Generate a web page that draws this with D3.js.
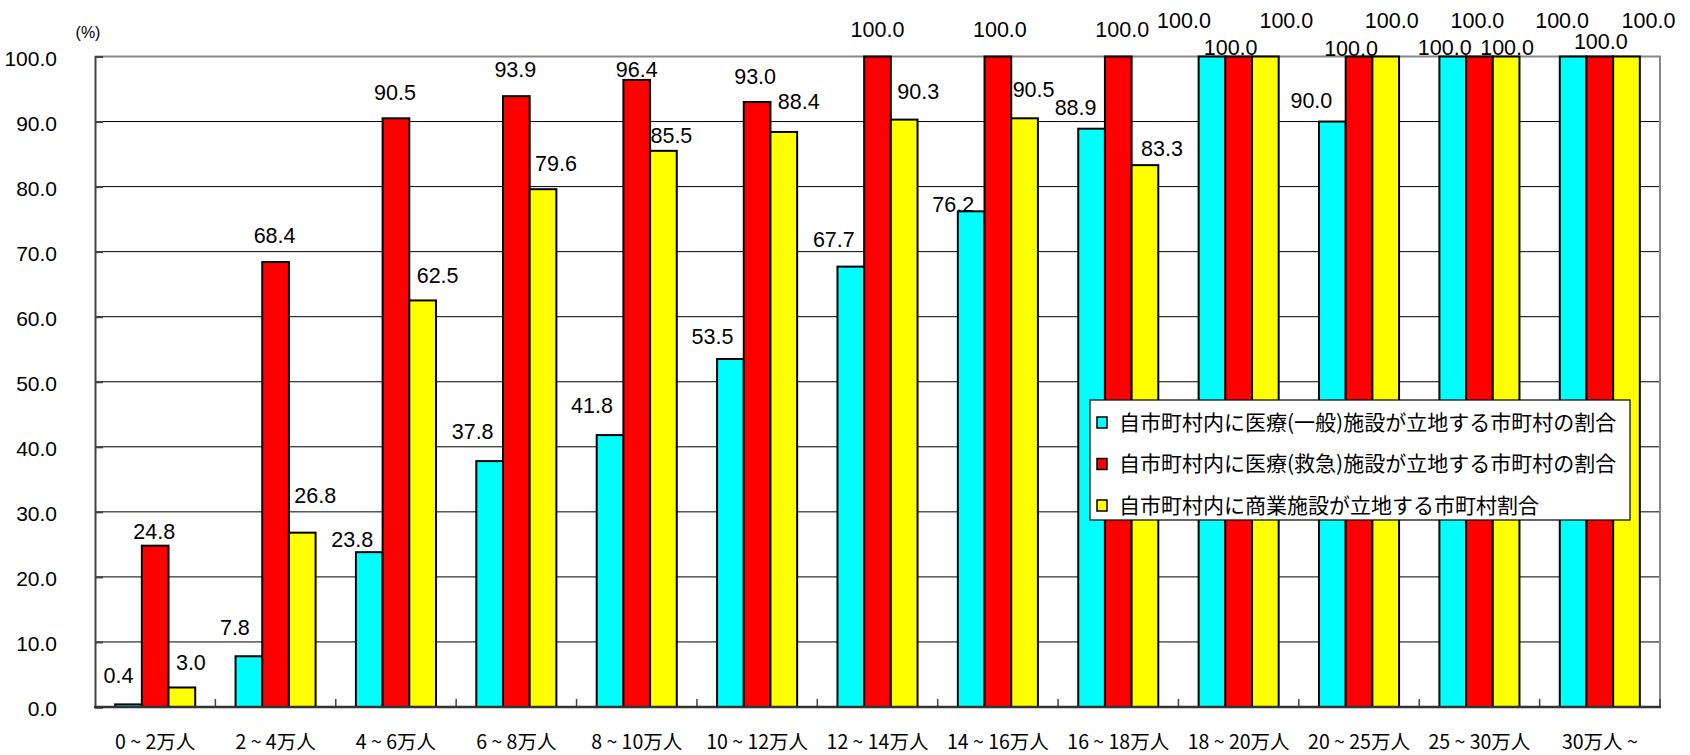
<!DOCTYPE html>
<html>
<head>
<meta charset="utf-8">
<script src="https://cdn.jsdelivr.net/npm/d3@7"></script>
<style>
  body { margin: 0; background: #fff; }
  text { font-family: "Liberation Sans", Arial, "Noto Sans CJK JP", sans-serif; fill: #000; }
  .jp { font-family: "Noto Sans CJK JP", sans-serif; }
</style>
</head>
<body>
<div id="viz"></div>
<script>
// categories (population bands)
var categories = ["0 ~ 2万人", "2 ~ 4万人", "4 ~ 6万人", "6 ~ 8万人", "8 ~ 10万人", "10 ~ 12万人",
  "12 ~ 14万人", "14 ~ 16万人", "16 ~ 18万人", "18 ~ 20万人", "20 ~ 25万人", "25 ~ 30万人", "30万人 ~"];

var seriesNames = [
  "自市町村内に医療(一般)施設が立地する市町村の割合",
  "自市町村内に医療(救急)施設が立地する市町村の割合",
  "自市町村内に商業施設が立地する市町村割合"
];

var medicalGeneral = [0.4, 7.8, 23.8, 37.8, 41.8, 53.5, 67.7, 76.2, 88.9, 100.0, 90.0, 100.0, 100.0];
var medicalEmergency = [24.8, 68.4, 90.5, 93.9, 96.4, 93.0, 100.0, 100.0, 100.0, 100.0, 100.0, 100.0, 100.0];
var commercial = [3.0, 26.8, 62.5, 79.6, 85.5, 88.4, 90.3, 90.5, 83.3, 100.0, 100.0, 100.0, 100.0];

var yTicks = [0, 10, 20, 30, 40, 50, 60, 70, 80, 90, 100];

var colors = ["#00ffff", "#ff0000", "#ffff00"];

// hand-placed label nudges (the original labels were dragged around)
var labelDx = [
  [-10, -14, -17, -17, -18, -18, -17, -18, -16, -28, -21, -8, -11],
  [-1, -1, -1, -1, 0, -2, 0, 2, 4, -8, -8, -2, 1],
  [9, 13, 15, 13, 8, 15, 14, 9, 17, 21, 6, 1, 22]
];
var labelLift = [
  [29, 29, 13, 30, 30, 23, 27, 7, 21, 36, 21, 9, 36],
  [14, 27, 26, 27, 11, 26, 27, 27, 27, 9, 8, 36, 15],
  [25, 37, 25, 26, 16, 31, 28, 29, 17, 36, 36, 9, 36]
];

var W = 1690, H = 755;
var plotLeft = 95, plotRight = 1660, plotTop = 56.5, plotBottom = 707;

var svg = d3.select("#viz").append("svg")
  .attr("width", W)
  .attr("height", H);

var x0 = d3.scaleBand().domain(d3.range(categories.length)).range([plotLeft, plotRight]);
var groupW = x0.bandwidth() * 0.665;
var x1 = d3.scaleBand().domain([0, 1, 2]).range([0, groupW]);
var y = d3.scaleLinear().domain([0, 100]).range([plotBottom, plotTop]);

var series = [medicalGeneral, medicalEmergency, commercial];

// gridlines
svg.append("g")
  .selectAll("line")
  .data(yTicks.filter(function(d) { return d > 0 && d < 100; }))
  .enter().append("line")
  .attr("x1", plotLeft).attr("x2", plotRight)
  .attr("y1", function(d) { return y(d); })
  .attr("y2", function(d) { return y(d); })
  .style("stroke", "#000")
  .style("stroke-width", 1);

// top & right border
svg.append("path")
  .attr("d", "M" + plotLeft + "," + y(100) + "H" + plotRight + "V" + plotBottom)
  .style("fill", "none")
  .style("stroke", "#888")
  .style("stroke-width", 2);

// bars
series.forEach(function(vals, s) {
  svg.append("g")
    .selectAll("rect")
    .data(vals)
    .enter().append("rect")
    .attr("x", function(d, i) { return x0(i) + (x0.bandwidth() - groupW) / 2 + x1(s); })
    .attr("y", function(d) { return y(d); })
    .attr("width", x1.bandwidth())
    .attr("height", function(d) { return plotBottom - y(d); })
    .style("fill", colors[s])
    .style("stroke", "#000")
    .style("stroke-width", 2);
});

// axes
var yAxis = d3.axisLeft(y).tickValues(yTicks).tickSize(-8).tickPadding(38).tickFormat(d3.format(".1f"));
var gy = svg.append("g").attr("transform", "translate(" + plotLeft + ",0)").call(yAxis);
gy.select(".domain").style("stroke", "#444").style("stroke-width", 2);
gy.selectAll(".tick line").style("stroke", "#444").style("stroke-width", 2);
gy.selectAll("text")
  .attr("dy", "0.42em")
  .style("font-size", "21px")
  .style("font-family", "'Liberation Sans', Arial, sans-serif");

var xTickPos = d3.range(1, categories.length + 1).map(function(i) { return plotLeft + i * x0.step(); });
svg.append("g")
  .selectAll("line")
  .data(xTickPos)
  .enter().append("line")
  .attr("x1", function(d) { return d; }).attr("x2", function(d) { return d; })
  .attr("y1", plotBottom).attr("y2", plotBottom - 8)
  .style("stroke", "#444")
  .style("stroke-width", 1.5);

svg.append("line")
  .attr("x1", plotLeft - 1).attr("x2", plotRight + 1)
  .attr("y1", plotBottom).attr("y2", plotBottom)
  .style("stroke", "#333")
  .style("stroke-width", 2.5);

svg.append("g")
  .selectAll("text")
  .data(categories)
  .enter().append("text")
  .attr("class", "jp")
  .attr("x", function(d, i) { return x0(i) + x0.bandwidth() / 2; })
  .attr("y", 749)
  .attr("text-anchor", "middle")
  .style("font-size", "19.5px")
  .text(function(d) { return d; });

svg.append("text")
  .attr("x", 88)
  .attr("y", 38)
  .attr("text-anchor", "middle")
  .style("font-size", "16px")
  .text("(%)");

// data labels
series.forEach(function(vals, s) {
  svg.append("g")
    .selectAll("text")
    .data(vals)
    .enter().append("text")
    .attr("x", function(d, i) {
      return x0(i) + (x0.bandwidth() - groupW) / 2 + x1(s) + x1.bandwidth() / 2 + labelDx[s][i];
    })
    .attr("y", function(d, i) { return y(d) - labelLift[s][i]; })
    .attr("dy", "0.36em")
    .attr("text-anchor", "middle")
    .style("font-size", "21.5px")
    .text(function(d) { return d3.format(".1f")(d); });
});

// legend
var lg = svg.append("g").attr("transform", "translate(1090,400)");
lg.append("rect")
  .attr("width", 540).attr("height", 120)
  .style("fill", "#fff")
  .style("stroke", "#000")
  .style("stroke-width", 1.2);

var rows = lg.selectAll("g.row")
  .data(seriesNames)
  .enter().append("g")
  .attr("class", "row")
  .attr("transform", function(d, i) { return "translate(0," + (22 + i * 41.5) + ")"; });

rows.append("rect")
  .attr("x", 7).attr("y", -5)
  .attr("width", 10).attr("height", 11)
  .style("fill", function(d, i) { return colors[i]; })
  .style("stroke", "#000")
  .style("stroke-width", 1.5);

rows.append("text")
  .attr("class", "jp")
  .attr("x", 29)
  .attr("y", 0)
  .attr("dy", "0.36em")
  .style("font-size", "21px")
  .text(function(d) { return d; });
</script>
</body>
</html>
